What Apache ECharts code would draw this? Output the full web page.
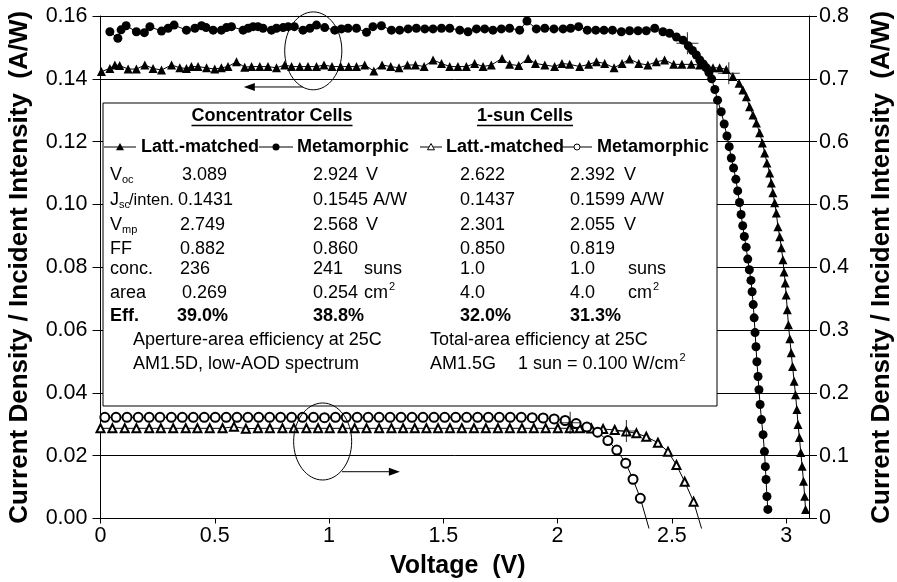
<!DOCTYPE html>
<html>
<head>
<meta charset="utf-8">
<script src="https://cdn.jsdelivr.net/npm/echarts@6/dist/echarts.min.js"></script>
<style>
  html, body { margin: 0; padding: 0; background: #fff; }
  #chart { width: 897px; height: 582px; }
</style>
</head>
<body>
<div id="chart"></div>
<script>
// ---------- axis tick labels ----------
const xTickLabels = ['0', '0.5', '1', '1.5', '2', '2.5', '3'];
const leftTickLabels = ['0.00', '0.02', '0.04', '0.06', '0.08', '0.10', '0.12', '0.14', '0.16'];
const rightTickLabels = ['0', '0.1', '0.2', '0.3', '0.4', '0.5', '0.6', '0.7', '0.8'];

// ---------- I-V data: [voltage (V), current / intensity (A/W)] ----------
// Concentrator cell, lattice-matched (left axis)
const concLatt = [
  [0.004,0.1423],[0.041,0.1433],[0.063,0.1444],[0.084,0.1442],[0.121,0.1431],[0.157,0.1431],
  [0.194,0.1444],[0.230,0.1433],[0.267,0.1428],[0.311,0.1444],[0.347,0.1435],[0.376,0.1433],
  [0.398,0.1439],[0.427,0.1439],[0.464,0.1435],[0.500,0.1431],[0.529,0.1435],[0.558,0.1439],
  [0.595,0.1454],[0.631,0.1437],[0.661,0.1439],[0.697,0.1439],[0.733,0.1439],[0.770,0.1435],
  [0.806,0.1444],[0.836,0.1439],[0.872,0.1439],[0.908,0.1439],[0.945,0.1439],[0.978,0.1444],
  [1.013,0.1439],[1.051,0.1439],[1.086,0.1439],[1.120,0.1439],[1.156,0.1444],[1.196,0.1425],
  [1.232,0.1444],[1.270,0.1439],[1.306,0.1435],[1.343,0.1444],[1.378,0.1444],[1.416,0.1439],
  [1.455,0.1460],[1.492,0.1449],[1.528,0.1439],[1.564,0.1439],[1.601,0.1439],[1.637,0.1449],
  [1.674,0.1439],[1.710,0.1444],[1.757,0.1465],[1.790,0.1446],[1.830,0.1442],[1.871,0.1465],
  [1.903,0.1449],[1.944,0.1444],[1.987,0.1439],[2.019,0.1449],[2.053,0.1446],[2.097,0.1439],
  [2.136,0.1446],[2.170,0.1454],[2.206,0.1449],[2.247,0.1435],[2.282,0.1449],[2.315,0.1463],
  [2.355,0.1449],[2.395,0.1444],[2.432,0.1454],[2.468,0.1460],[2.508,0.1446],[2.544,0.1446],
  [2.585,0.1446],[2.622,0.1444],[2.652,0.1440],[2.680,0.1435],[2.709,0.1435],[2.738,0.1430],
  [2.767,0.1407],[2.794,0.1386],[2.811,0.1364],[2.826,0.1343],[2.840,0.1311],[2.855,0.1285],
  [2.870,0.1259],[2.884,0.1228],[2.896,0.1196],[2.906,0.1164],[2.916,0.1132],[2.928,0.1100],
  [2.935,0.1068],[2.942,0.1037],[2.950,0.1005],[2.957,0.0973],[2.964,0.0929],[2.972,0.0897],
  [2.979,0.0862],[2.986,0.0824],[2.991,0.0785],[2.996,0.0750],[3.000,0.0712],[3.005,0.0665],
  [3.010,0.0617],[3.016,0.0572],[3.022,0.0528],[3.028,0.0484],[3.035,0.0437],[3.041,0.0394],
  [3.047,0.0347],[3.052,0.0299],[3.058,0.0258],[3.064,0.0210],[3.070,0.0166],[3.076,0.0119],
  [3.081,0.0071],[3.085,0.0029]
];

// Concentrator cell, metamorphic (left axis)
const concMeta = [
  [0.041,0.1550],[0.076,0.1529],[0.090,0.1556],[0.112,0.1569],[0.157,0.1550],[0.192,0.1547],
  [0.216,0.1566],[0.267,0.1552],[0.296,0.1561],[0.322,0.1571],[0.376,0.1555],[0.413,0.1561],
  [0.442,0.1569],[0.462,0.1563],[0.493,0.1555],[0.529,0.1555],[0.551,0.1563],[0.573,0.1566],
  [0.624,0.1555],[0.646,0.1561],[0.668,0.1566],[0.689,0.1566],[0.711,0.1561],[0.748,0.1555],
  [0.770,0.1561],[0.799,0.1563],[0.821,0.1566],[0.848,0.1566],[0.886,0.1555],[0.916,0.1561],
  [0.945,0.1571],[0.981,0.1563],[1.025,0.1555],[1.054,0.1559],[1.083,0.1561],[1.120,0.1561],
  [1.164,0.1548],[1.192,0.1566],[1.229,0.1569],[1.273,0.1555],[1.309,0.1555],[1.346,0.1559],
  [1.382,0.1561],[1.419,0.1559],[1.455,0.1559],[1.492,0.1561],[1.528,0.1561],[1.572,0.1555],
  [1.608,0.1550],[1.645,0.1559],[1.681,0.1559],[1.717,0.1555],[1.754,0.1559],[1.790,0.1561],
  [1.834,0.1555],[1.866,0.1584],[1.907,0.1559],[1.944,0.1561],[1.984,0.1559],[2.024,0.1559],
  [2.057,0.1561],[2.092,0.1566],[2.130,0.1555],[2.167,0.1555],[2.203,0.1555],[2.240,0.1555],
  [2.279,0.1550],[2.315,0.1553],[2.352,0.1553],[2.388,0.1553],[2.425,0.1561],[2.461,0.1550],
  [2.490,0.1545],[2.520,0.1533],[2.549,0.1523],[2.572,0.1505],[2.590,0.1490],[2.607,0.1476],
  [2.622,0.1460],[2.637,0.1447],[2.651,0.1435],[2.662,0.1420],[2.674,0.1400],[2.688,0.1366],
  [2.700,0.1332],[2.716,0.1295],[2.729,0.1256],[2.741,0.1218],[2.751,0.1184],[2.760,0.1148],
  [2.770,0.1116],[2.780,0.1080],[2.788,0.1043],[2.796,0.1006],[2.803,0.0968],[2.810,0.0932],
  [2.817,0.0898],[2.825,0.0864],[2.832,0.0826],[2.839,0.0792],[2.846,0.0758],[2.851,0.0722],
  [2.856,0.0681],[2.860,0.0639],[2.864,0.0592],[2.868,0.0547],[2.872,0.0499],[2.877,0.0452],
  [2.881,0.0410],[2.886,0.0363],[2.892,0.0315],[2.899,0.0267],[2.905,0.0213],[2.909,0.0165],
  [2.912,0.0124],[2.916,0.0070],[2.920,0.0029]
];

// One-sun cell, lattice-matched (right axis)
const sunLatt = [
  [0.000,0.1436],[0.052,0.1436],[0.106,0.1436],[0.157,0.1436],[0.213,0.1436],[0.264,0.1436],
  [0.318,0.1436],[0.373,0.1436],[0.424,0.1436],[0.478,0.1436],[0.534,0.1436],[0.584,0.1462],
  [0.636,0.1430],[0.689,0.1436],[0.741,0.1436],[0.796,0.1436],[0.846,0.1436],[0.901,0.1436],
  [0.952,0.1436],[1.003,0.1436],[1.059,0.1436],[1.112,0.1436],[1.164,0.1436],[1.219,0.1436],
  [1.273,0.1436],[1.324,0.1436],[1.375,0.1436],[1.426,0.1436],[1.477,0.1436],[1.529,0.1436],
  [1.581,0.1436],[1.634,0.1436],[1.686,0.1436],[1.739,0.1436],[1.791,0.1436],[1.844,0.1436],
  [1.896,0.1436],[1.948,0.1436],[2.001,0.1436],[2.053,0.1436],[2.097,0.1436],[2.148,0.1432],
  [2.199,0.1425],[2.250,0.1409],[2.301,0.1385],[2.345,0.1356],[2.388,0.1302],[2.439,0.1207],
  [2.483,0.1064],[2.520,0.0852],[2.556,0.0586],[2.595,0.0268]
];
const sunLattFitEnds = [[-0.055, 0.1436], [2.630, -0.016]];

// One-sun cell, metamorphic (right axis)
const sunMeta = [
  [0.019,0.1610],[0.068,0.1610],[0.116,0.1610],[0.165,0.1610],[0.213,0.1610],[0.260,0.1610],
  [0.310,0.1610],[0.358,0.1610],[0.406,0.1610],[0.454,0.1610],[0.502,0.1610],[0.550,0.1610],
  [0.597,0.1610],[0.645,0.1610],[0.692,0.1610],[0.740,0.1610],[0.788,0.1610],[0.836,0.1610],
  [0.884,0.1610],[0.932,0.1610],[0.980,0.1605],[1.028,0.1610],[1.075,0.1610],[1.123,0.1610],
  [1.171,0.1610],[1.219,0.1610],[1.267,0.1610],[1.315,0.1610],[1.363,0.1610],[1.411,0.1610],
  [1.459,0.1610],[1.506,0.1610],[1.554,0.1610],[1.602,0.1610],[1.650,0.1610],[1.697,0.1610],
  [1.745,0.1610],[1.793,0.1610],[1.841,0.1610],[1.889,0.1605],[1.937,0.1600],[1.985,0.1585],
  [2.033,0.1560],[2.081,0.1512],[2.128,0.1455],[2.175,0.1375],[2.220,0.1240],[2.259,0.1090],
  [2.298,0.0880],[2.330,0.0625],[2.362,0.0322]
];
const sunMetaFitEnds = [[-0.055, 0.1610], [2.400, -0.016]];

// Cell parameters (table columns: conc. latt., conc. meta., 1-sun latt., 1-sun meta.)
const paramRows = ['Voc', 'Jsc/inten.', 'Vmp', 'FF', 'conc.', 'area', 'Eff.'];
const concLattParams = ['3.089', '0.1431', '2.749', '0.882', '236', '0.269', '39.0%'];
const concMetaParams = ['2.924', '0.1545', '2.568', '0.860', '241', '0.254', '38.8%'];
const sunLattParams  = ['2.622', '0.1437', '2.301', '0.850', '1.0', '4.0', '32.0%'];
const sunMetaParams  = ['2.392', '0.1599', '2.055', '0.819', '1.0', '4.0', '31.3%'];
const paramUnits = ['V', 'A/W', 'V', '', 'suns', 'cm', ''];

// Current at the maximum-power point of each cell (A/W)
const concLattImp = 0.1418, concMetaImp = 0.1513, sunLattImp = 0.1392, sunMetaImp = 0.1524;

// ---------- styling ----------
const FONT = "'Liberation Sans', Arial, Helvetica, sans-serif";
const BLACK = '#000';
const CROSS = 'path://M10,0h1v21h-1zM0,10h21v1h-21z';

function tickFormatter(labels, step) {
  return function (v) {
    const k = v / step;
    const r = Math.round(k);
    return Math.abs(k - r) < 1e-6 && labels[r] !== undefined ? labels[r] : '';
  };
}

function withFitEnds(points, ends) {
  return [{ value: ends[0], symbol: 'none' }]
    .concat(points.map(p => ({ value: p })))
    .concat([{ value: ends[1], symbol: 'none' }]);
}

const chart = echarts.init(document.getElementById('chart'), null, { renderer: 'canvas' });

const yTitle = { fontWeight: 'bold', fontSize: 26, color: BLACK, fontFamily: FONT };
const xTitle = { fontWeight: 'bold', fontSize: 25, color: BLACK, fontFamily: FONT, padding: [0, 0, 0, 6] };
const tickText = { color: BLACK, fontSize: 21.5, fontFamily: FONT };

chart.setOption({
  animation: false,
  backgroundColor: '#fff',
  grid: { left: 100.5, right: 88, top: 16, bottom: 63.5, containLabel: false, outerBoundsMode: 'none' },
  xAxis: {
    type: 'value', min: 0, max: 3.1, interval: 0.5,
    name: 'Voltage  (V)', nameLocation: 'middle', nameGap: 35, nameTextStyle: xTitle,
    axisLine: { show: true, onZero: false, lineStyle: { color: BLACK, width: 1 } },
    axisTick: { show: true, length: 5, lineStyle: { color: BLACK } },
    axisLabel: Object.assign({ margin: 7, showMaxLabel: false, formatter: tickFormatter(xTickLabels, 0.5) }, tickText),
    splitLine: { show: false }
  },
  yAxis: [
    {
      type: 'value', position: 'left', min: 0, max: 0.16, interval: 0.02,
      name: 'Current Density / Incident Intensity  (A/W)', nameLocation: 'middle', nameGap: 68,
      nameTextStyle: yTitle,
      axisLine: { show: true, onZero: false, lineStyle: { color: BLACK, width: 1 } },
      axisTick: { show: true, length: 8, lineStyle: { color: BLACK } },
      axisLabel: Object.assign({ margin: 13, formatter: tickFormatter(leftTickLabels, 0.02) }, tickText),
      splitLine: { show: true, lineStyle: { color: BLACK, width: 1 } }
    },
    {
      type: 'value', position: 'right', min: 0, max: 0.8, interval: 0.1,
      name: 'Current Density / Incident Intensity  (A/W)', nameLocation: 'middle', nameGap: 60,
      nameTextStyle: yTitle,
      axisLine: { show: true, onZero: false, lineStyle: { color: BLACK, width: 1 } },
      axisTick: { show: true, length: 8, lineStyle: { color: BLACK } },
      axisLabel: Object.assign({ margin: 10, formatter: tickFormatter(rightTickLabels, 0.1) }, tickText),
      splitLine: { show: false }
    }
  ],
  series: [
    {
      name: 'Concentrator Latt.-matched', type: 'line', yAxisIndex: 0, data: concLatt,
      symbol: 'triangle', symbolSize: 9, z: 3,
      itemStyle: { color: BLACK }, lineStyle: { color: BLACK, width: 1 }, emphasis: { disabled: true }
    },
    {
      name: 'Concentrator Metamorphic', type: 'line', yAxisIndex: 0, data: concMeta,
      symbol: 'circle', symbolSize: 9, z: 3,
      itemStyle: { color: BLACK }, lineStyle: { color: BLACK, width: 1 }, emphasis: { disabled: true }
    },
    {
      name: '1-sun Latt.-matched', type: 'line', yAxisIndex: 1, data: withFitEnds(sunLatt, sunLattFitEnds),
      symbol: 'emptyTriangle', symbolSize: 8, clip: false, z: 3,
      itemStyle: { color: BLACK, borderWidth: 1 }, lineStyle: { color: BLACK, width: 1 }, emphasis: { disabled: true }
    },
    {
      name: '1-sun Metamorphic', type: 'line', yAxisIndex: 1, data: withFitEnds(sunMeta, sunMetaFitEnds),
      symbol: 'emptyCircle', symbolSize: 9, clip: false, z: 3,
      itemStyle: { color: BLACK, borderWidth: 1 }, lineStyle: { color: BLACK, width: 1 }, emphasis: { disabled: true }
    },
    {
      name: 'Concentrator max power', type: 'scatter', yAxisIndex: 0, z: 4,
      data: [[parseFloat(concLattParams[2]), concLattImp], [parseFloat(concMetaParams[2]), concMetaImp]],
      symbol: CROSS, symbolSize: 22, itemStyle: { color: BLACK }, emphasis: { disabled: true }
    },
    {
      name: '1-sun max power', type: 'scatter', yAxisIndex: 1, z: 4,
      data: [[parseFloat(sunLattParams[2]), sunLattImp], [parseFloat(sunMetaParams[2]), sunMetaImp]],
      symbol: CROSS, symbolSize: 22, itemStyle: { color: BLACK }, emphasis: { disabled: true }
    }
  ]
});

// ---------- annotations: ellipses marking each curve pair, arrows pointing to their axis ----------
const marks = [
  { axis: 0, ellipse: [0.931, 0.1489, 0.125, 0.0124], arrow: [[0.885, 0.1374], [0.627, 0.1374]] },
  { axis: 1, ellipse: [0.972, 0.1226, 0.127, 0.0613], arrow: [[1.056, 0.0745], [1.310, 0.0745]] }
];

function px(axis, v, i) {
  return chart.convertToPixel({ xAxisIndex: 0, yAxisIndex: axis }, [v, i]);
}

const graphics = [];
marks.forEach(m => {
  const c = px(m.axis, m.ellipse[0], m.ellipse[1]);
  const e = px(m.axis, m.ellipse[0] + m.ellipse[2], m.ellipse[1] + m.ellipse[3]);
  graphics.push({
    type: 'ellipse', z: 5, silent: true,
    shape: { cx: c[0], cy: c[1], rx: Math.abs(e[0] - c[0]), ry: Math.abs(e[1] - c[1]) },
    style: { fill: 'none', stroke: BLACK, lineWidth: 1 }
  });
  const a = px(m.axis, m.arrow[0][0], m.arrow[0][1]);
  const b = px(m.axis, m.arrow[1][0], m.arrow[1][1]);
  const dir = Math.sign(b[0] - a[0]);
  const headLen = 11, headHalf = 4;
  graphics.push({
    type: 'line', z: 5, silent: true,
    shape: { x1: a[0], y1: a[1], x2: b[0] - dir * headLen * 0.6, y2: b[1] },
    style: { stroke: BLACK, lineWidth: 1 }
  });
  graphics.push({
    type: 'polygon', z: 5, silent: true,
    shape: { points: [[b[0], b[1]], [b[0] - dir * headLen, b[1] - headHalf], [b[0] - dir * headLen, b[1] + headHalf]] },
    style: { fill: BLACK }
  });
});

// ---------- parameter table ----------
const box = { x: 103, y: 103, w: 614, h: 303 };
const REG = 18, SMALL = 11;

function measure(text, size, weight) {
  const ctx = document.createElement('canvas').getContext('2d');
  ctx.font = (weight || 'normal') + ' ' + size + 'px ' + FONT;
  return ctx.measureText(text).width;
}
function txt(text, x, y, size, weight, align) {
  graphics.push({
    type: 'text', z: 2, silent: true, x: x, y: y,
    style: {
      text: text, fill: BLACK, fontSize: size, fontFamily: FONT, fontWeight: weight || 'normal',
      align: align || 'left', verticalAlign: 'middle'
    }
  });
}

graphics.push({
  type: 'rect', z: 1, silent: true,
  shape: { x: box.x, y: box.y, width: box.w, height: box.h },
  style: { fill: '#fff', stroke: BLACK, lineWidth: 1 }
});

// group headings, underlined
[['Concentrator Cells', 272], ['1-sun Cells', 525]].forEach(h => {
  txt(h[0], h[1], 116, 18, 'bold', 'center');
  const w = measure(h[0], 18, 'bold');
  graphics.push({
    type: 'line', z: 2, silent: true,
    shape: { x1: h[1] - w / 2, y1: 125.5, x2: h[1] + w / 2, y2: 125.5 },
    style: { stroke: BLACK, lineWidth: 1.3 }
  });
});

// series key row
const keyY = 147;
const keys = [
  { x1: 104, x2: 136, sym: 'triangle', filled: true, label: 'Latt.-matched', tx: 141 },
  { x1: 259, x2: 293, sym: 'circle', filled: true, label: 'Metamorphic', tx: 297 },
  { x1: 420, x2: 442, sym: 'triangle', filled: false, label: 'Latt.-matched', tx: 446 },
  { x1: 562, x2: 592, sym: 'circle', filled: false, label: 'Metamorphic', tx: 597 }
];
keys.forEach(k => {
  const cx = (k.x1 + k.x2) / 2;
  graphics.push({
    type: 'line', z: 2, silent: true,
    shape: { x1: k.x1, y1: keyY, x2: k.x2, y2: keyY }, style: { stroke: BLACK, lineWidth: 1 }
  });
  const style = k.filled ? { fill: BLACK } : { fill: '#fff', stroke: BLACK, lineWidth: 1 };
  if (k.sym === 'circle') {
    const r = k.filled ? 3.5 : 3;
    graphics.push({ type: 'circle', z: 3, silent: true, shape: { cx: cx, cy: keyY, r: r }, style: style });
  } else {
    const s = k.filled ? 4 : 3.5;
    graphics.push({
      type: 'polygon', z: 3, silent: true,
      shape: { points: [[cx, keyY - s], [cx + s, keyY + s * 0.8], [cx - s, keyY + s * 0.8]] }, style: style
    });
  }
  txt(k.label, k.tx, keyY, 18, 'bold');
});

// parameter rows
const rowY = [175, 200, 225, 249, 269, 293, 316];
const colX = [180, 313, 460, 570];
const firstColNudge = [2, -2, 0, 0, 0, 2, -3];
const unitX = [[366, 364], [624, 628]];
const columns = [concLattParams, concMetaParams, sunLattParams, sunMetaParams];

// row names with subscripts
txt('V', 110, rowY[0], REG); txt('oc', 122, rowY[0] + 5, SMALL);
txt('J', 110, rowY[1], REG); txt('sc', 119, rowY[1] + 5, SMALL); txt('/inten.', 129, rowY[1], 16.5);
txt('V', 110, rowY[2], REG); txt('mp', 122, rowY[2] + 5, SMALL);
txt(paramRows[3], 110, rowY[3], REG);
txt(paramRows[4], 110, rowY[4], REG);
txt(paramRows[5], 110, rowY[5], REG);
txt(paramRows[6], 110, rowY[6], REG, 'bold');

paramRows.forEach((r, ri) => {
  const bold = ri === 6 ? 'bold' : 'normal';
  columns.forEach((col, ci) => txt(col[ri], colX[ci] + (ci === 0 ? firstColNudge[ri] : 0), rowY[ri], REG, bold));
  const u = paramUnits[ri];
  if (u) {
    [0, 1].forEach(side => {
      let ux = (u === 'suns' || u === 'cm') ? unitX[side][1] : unitX[side][0];
      if (u === 'A/W') ux = colX[side * 2 + 1] + measure(columns[side * 2 + 1][ri] + ' ', REG);
      txt(u, ux, rowY[ri], REG);
      if (u === 'cm') txt('2', ux + measure('cm', REG) + 1, rowY[ri] - 6, SMALL);
    });
  }
});

// measurement notes
txt('Aperture-area efficiency at 25C', 133, 340, REG);
txt('Total-area efficiency at 25C', 430, 340, REG);
txt('AM1.5D, low-AOD spectrum', 133, 364, REG);
txt('AM1.5G', 430, 364, REG);
const sunNote = '1 sun = 0.100 W/cm';
txt(sunNote, 518, 364, REG);
txt('2', 518 + measure(sunNote, REG) + 1, 358, SMALL);

chart.setOption({ graphic: { elements: graphics } });
</script>
</body>
</html>
